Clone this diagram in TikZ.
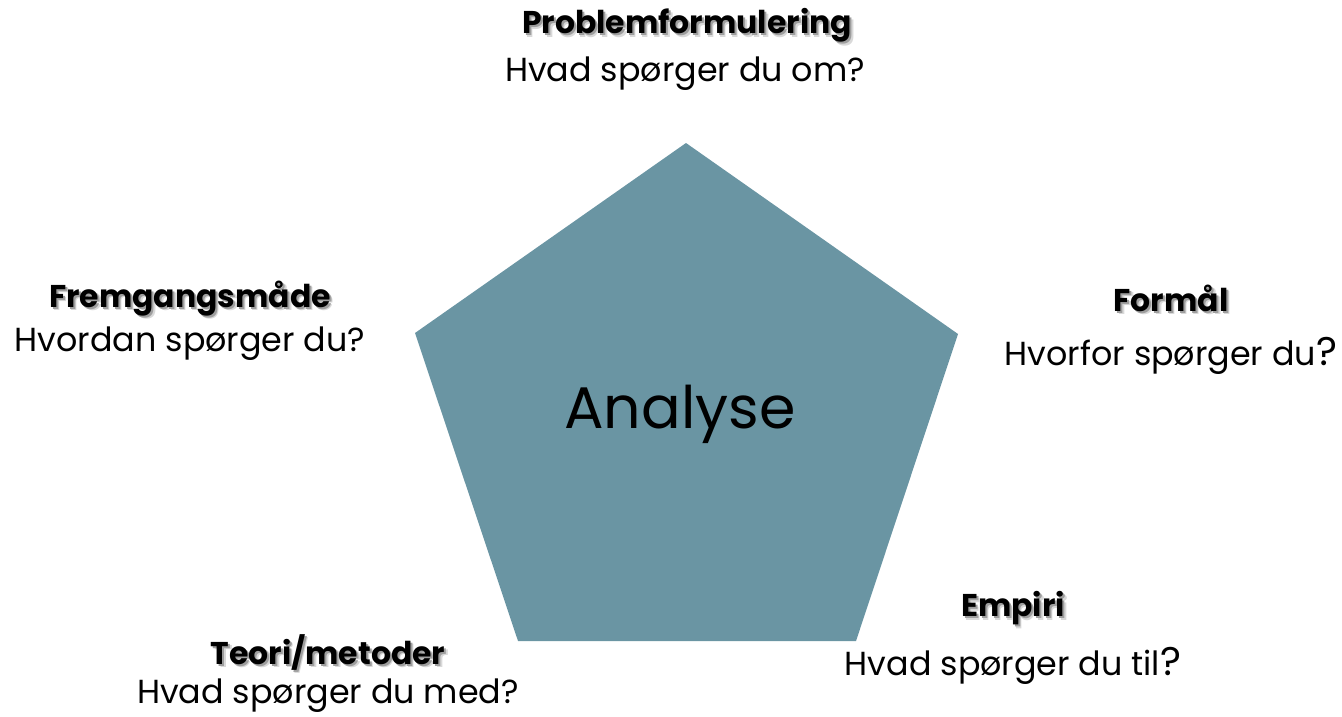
\documentclass[tikz,border=0pt]{standalone}
\usepackage{fontspec}
\setmainfont{Poppins}
\definecolor{penta}{RGB}{106,149,163}
\newcommand{\shtxt}[1]{%
  \makebox[0pt][l]{\hspace{2.6pt}\raisebox{-2.6pt}{\textcolor{black!15}{#1}}}%
  \makebox[0pt][l]{\hspace{1.5pt}\raisebox{-1.5pt}{\textcolor{black!38}{#1}}}%
  #1}
\tikzset{
  head/.style={font=\fontsize{23.6}{26}\selectfont\bfseries, text=black, inner sep=0pt, anchor=center},
  body/.style={font=\fontsize{25}{28}\selectfont, text=black, inner sep=0pt, anchor=center},
  pentastyle/.style={fill=penta, draw=none}
}
\begin{document}
\begin{tikzpicture}[x=0.75pt,y=-0.75pt]
\useasboundingbox (0,0) rectangle (1342,717);
\coordinate (vt) at (686,143);
\coordinate (vl) at (415,333);
\coordinate (vr) at (958,334);
\coordinate (vbl) at (518,641);
\coordinate (vbr) at (856,641);
\fill[pentastyle] (vt) -- (vr) -- (vbr) -- (vbl) -- (vl) -- cycle;
\node[font=\fontsize{44}{50}\selectfont, inner sep=0pt] (analyse) at (680,414) {Analyse};

\node[head] (h1) at (687,27) {\shtxt{Problemformulering}};
\node[body] (b1) at (685,74) {Hvad spørger du om?};

\node[head] (h2) at (190,300) {\shtxt{Fremgangsmåde}};
\node[body] (b2) at (190,344) {Hvordan spørger du?};

\node[head] (h3) at (1171,300) {\shtxt{Formål}};
\node[body] (b3) at (1171,356) {Hvorfor spørger du\fontsize{30}{30}\selectfont ?};

\node[head] (h4) at (1013,610) {\shtxt{Empiri}};
\node[body] (b4) at (1013,666) {Hvad spørger du til\fontsize{30}{30}\selectfont ?};

\node[head] (h5) at (328,654) {\shtxt{Teori/metoder}};
\node[body] (b5) at (328,696) {Hvad spørger du med?};
\end{tikzpicture}
\end{document}
